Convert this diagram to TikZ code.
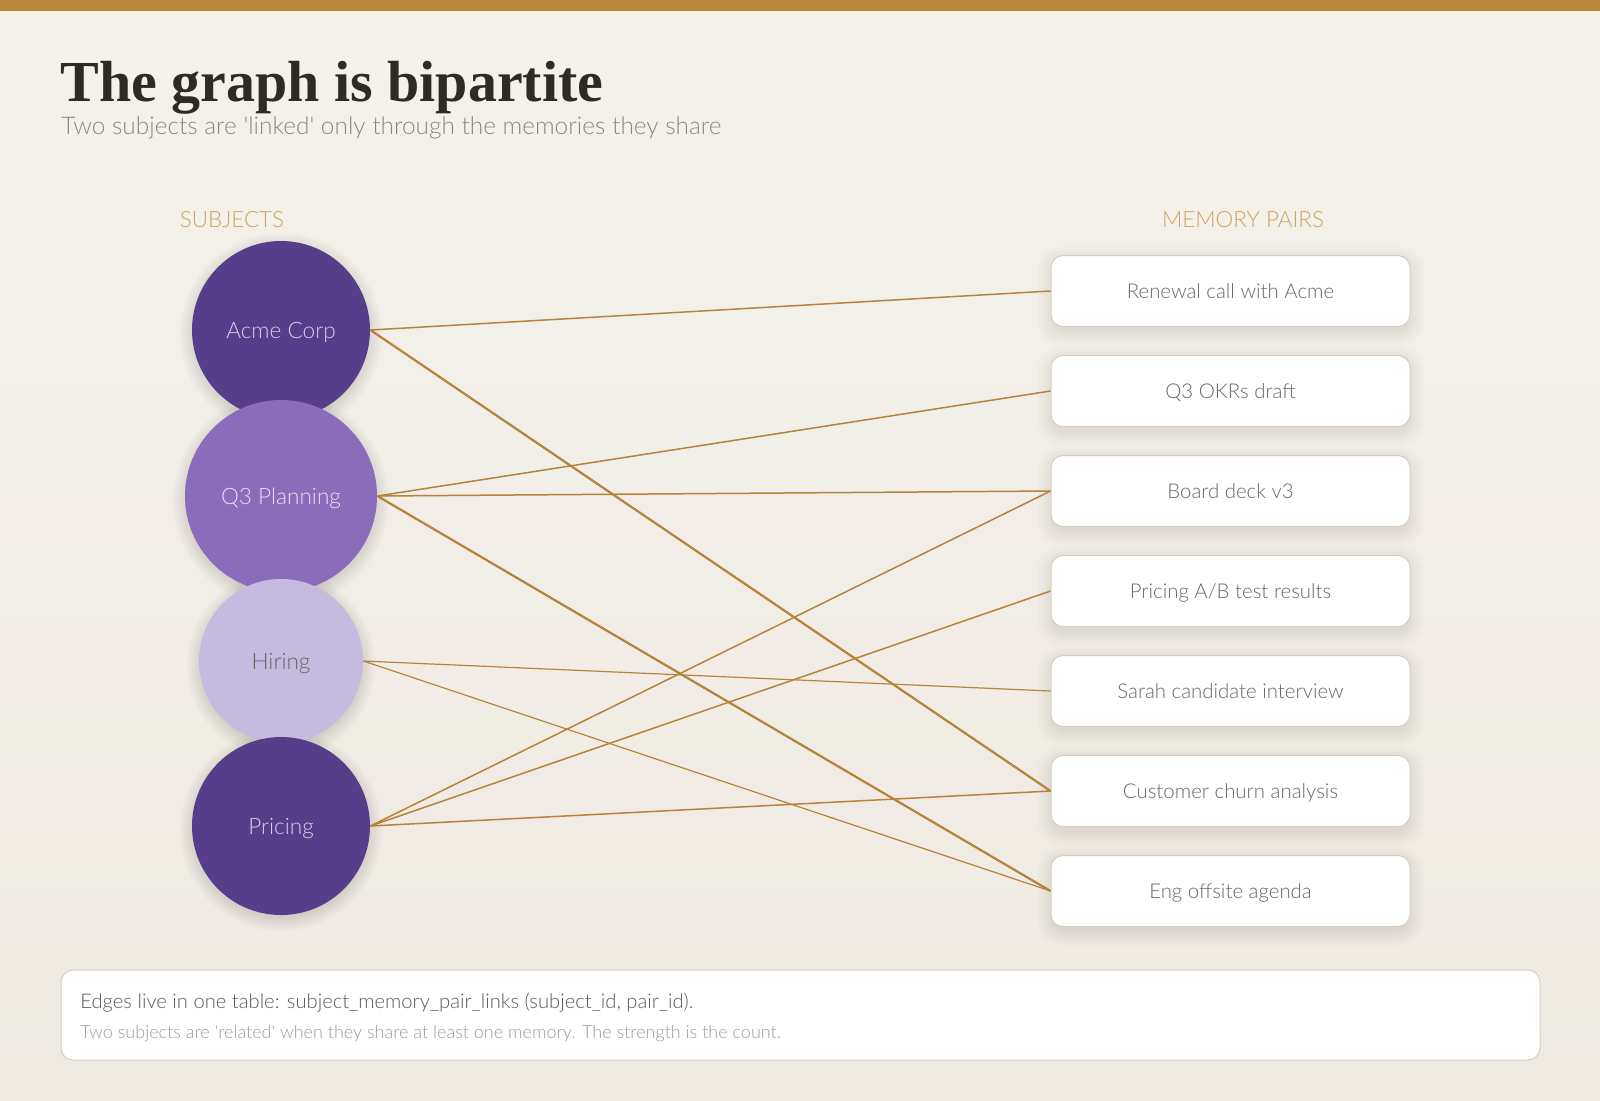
\documentclass[tikz,border=0pt]{standalone}
\usepackage{fontspec}
\setmainfont{Lato}[UprightFont=* Light, BoldFont=* Regular]
\newfontfamily\qfont{Lato}[UprightFont=* Light]
\newfontfamily\titlefont{Liberation Serif}
\usetikzlibrary{calc}
\definecolor{bgtop}{HTML}{F5F2EC}
\definecolor{bgbot}{HTML}{EEEAE2}
\definecolor{topbar}{HTML}{B8873A}
\definecolor{edgec}{HTML}{B5843A}
\definecolor{labelc}{HTML}{CDA564}
\definecolor{titlec}{HTML}{2E2A25}
\definecolor{subc}{HTML}{8C8782}
\definecolor{boxtext}{HTML}{6B6660}
\definecolor{boxline}{HTML}{D8CDBD}
\definecolor{darkp}{HTML}{563E8B}
\definecolor{midp}{HTML}{8A6DBA}
\definecolor{lightp}{HTML}{C5BBDF}
\definecolor{darkptext}{HTML}{D6CDEB}
\definecolor{midptext}{HTML}{E6DFF4}
\definecolor{notec1}{HTML}{5E5953}
\definecolor{notec2}{HTML}{A09B95}
\definecolor{shadowc}{HTML}{6E6250}
\newcommand\q{{\qfont'}}
% soft shadow behind a circle: centre, radius (px)
\newcommand\circshadow[2]{%
  \foreach \k in {0,...,9} {\fill[shadowc, opacity=0.018] ($(#1)+(0,4)$) circle ({#2-2+\k*1.6});}}
% soft shadow behind a box: centre x, centre y, half width, half height (px)
\newcommand\boxshadow[4]{%
  \foreach \k in {0,...,9} {\fill[shadowc, opacity=0.013, rounded corners={6pt+\k*0.8pt}] ({#1-#3+2-\k*1.8},{#2-#4+5-\k*1.6}) rectangle ({#1+#3-2+\k*1.8},{#2+#4+5+\k*1.6});}}
\tikzset{
  subj/.style={circle, inner sep=0pt, text depth=0pt, font=\fontsize{11.3}{13}\selectfont},
  pair/.style={draw=boxline, line width=0.5pt, fill=white, rounded corners=6pt, minimum width=179.5pt, minimum height=35.5pt, inner sep=0pt, text depth=0pt, text=boxtext, font=\fontsize{10.2}{12}\selectfont},
  link/.style={draw=edgec, line width=0.75pt},
  strong/.style={draw=edgec, line width=1.1pt},
  weak/.style={draw=edgec, line width=0.6pt},
  collabel/.style={text=labelc, font=\fontsize{11.2}{13}\selectfont, inner sep=0pt},
}
\begin{document}
\begin{tikzpicture}[x=0.5pt,y=-0.5pt]
\useasboundingbox (0,0) rectangle (1600,1100);
\shade[top color=bgtop,bottom color=bgbot] (0,0) rectangle (1600,1100);
\fill[topbar] (0,0) rectangle (1600,11);

\node[anchor=base west, inner sep=0pt, text=titlec, font=\titlefont\bfseries\fontsize{29}{34}\selectfont] (title) at (60,101) {The graph is bipartite};
\node[anchor=base west, inner sep=0pt, text=subc, font=\fontsize{12.2}{14}\selectfont] (subtitle) at (61,134) {Two subjects are \q linked\q{} only through the memories they share};

\node[collabel] (subjlabel) at (232,220) {SUBJECTS};
\node[collabel] (pairlabel) at (1243,220) {MEMORY PAIRS};

% shadows
\circshadow{281,330}{89}
\circshadow{281,496}{96}
\circshadow{281,661}{82}
\circshadow{281,826}{89}
\foreach \yy in {291,391,491,591,691,791,891} {\boxshadow{1230.5}{\yy}{179.5}{35.5}}

% subjects
\node[subj, fill=darkp, minimum size=89pt, text=darkptext] (acme) at (281,330) {Acme Corp};
\node[subj, fill=midp, minimum size=96pt, text=midptext] (q3) at (281,496) {Q3 Planning};
\node[subj, fill=lightp, minimum size=82pt, text=boxtext] (hiring) at (281,661) {Hiring};
\node[subj, fill=darkp, minimum size=89pt, text=darkptext] (pricing) at (281,826) {Pricing};

% memory pairs
\node[pair] (p1) at (1230.5,291) {Renewal call with Acme};
\node[pair] (p2) at (1230.5,391) {Q3 OKRs draft};
\node[pair] (p3) at (1230.5,491) {Board deck v3};
\node[pair] (p4) at (1230.5,591) {Pricing A/B test results};
\node[pair] (p5) at (1230.5,691) {Sarah candidate interview};
\node[pair] (p6) at (1230.5,791) {Customer churn analysis};
\node[pair] (p7) at (1230.5,891) {Eng offsite agenda};

% edges
\draw[link] (acme.east) -- (p1.west);
\draw[strong] (acme.east) -- (p6.west);
\draw[link] (q3.east) -- (p2.west);
\draw[link] (q3.east) -- (p3.west);
\draw[strong] (q3.east) -- (p7.west);
\draw[weak] (hiring.east) -- (p5.west);
\draw[weak] (hiring.east) -- (p7.west);
\draw[link] (pricing.east) -- (p3.west);
\draw[link] (pricing.east) -- (p4.west);
\draw[link] (pricing.east) -- (p6.west);

% note box
\node[draw=boxline, line width=0.5pt, fill=white, rounded corners=6pt, minimum width=739.5pt, minimum height=45pt, inner sep=0pt] (note) at (800.5,1015) {};
\node[anchor=base west, inner sep=0pt, text=notec1, font=\fontsize{10.1}{12}\selectfont] (note1) at (80,1008) {Edges live in one table: subject\_memory\_pair\_links (subject\_id, pair\_id).};
\node[anchor=base west, inner sep=0pt, text=notec2, font=\fontsize{9}{10}\selectfont] (note2) at (80,1038) {Two subjects are \q related\q{} when they share at least one memory. The strength is the count.};
\end{tikzpicture}
\end{document}
